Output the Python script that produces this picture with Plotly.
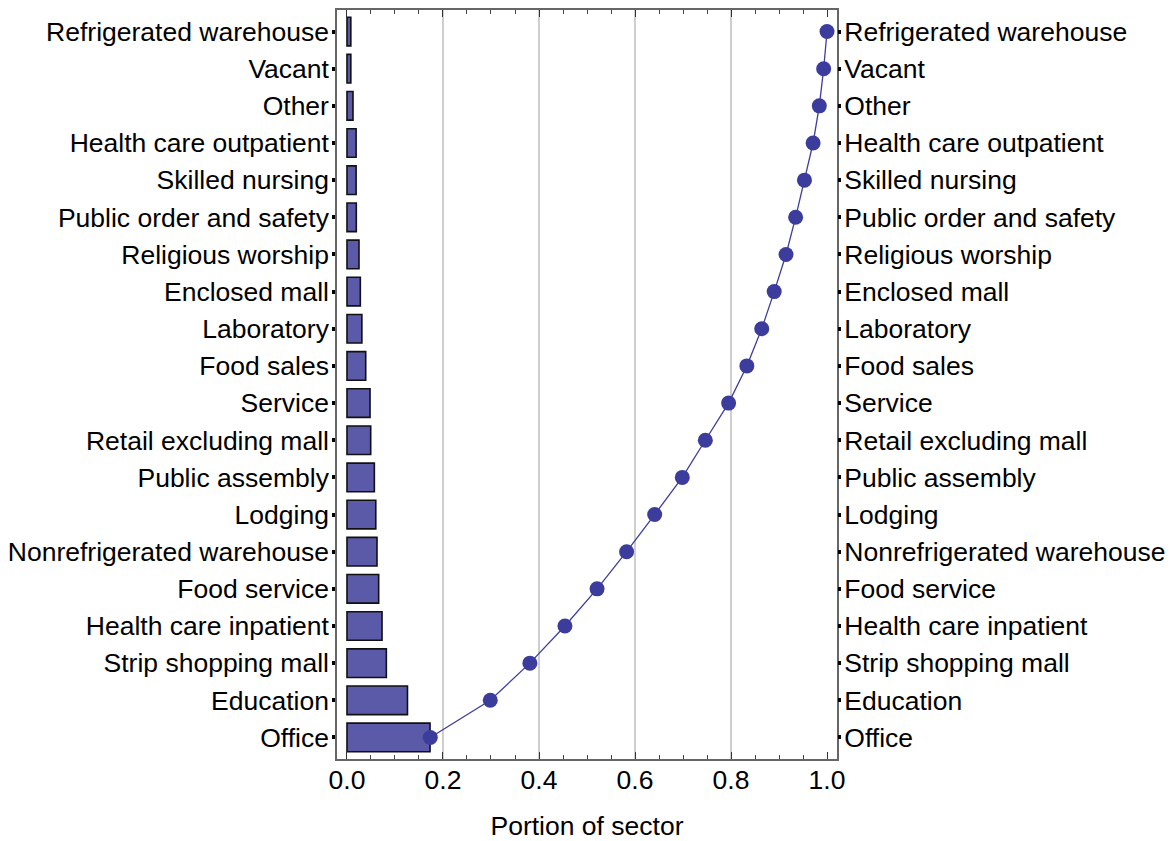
import plotly.graph_objects as go

categories = ["Office", "Education", "Strip shopping mall", "Health care inpatient",
              "Food service", "Nonrefrigerated warehouse", "Lodging", "Public assembly",
              "Retail excluding mall", "Service", "Food sales", "Laboratory",
              "Enclosed mall", "Religious worship", "Public order and safety",
              "Skilled nursing", "Health care outpatient", "Other", "Vacant",
              "Refrigerated warehouse"]
portion = [0.173, 0.126, 0.082, 0.073, 0.066, 0.0625, 0.060, 0.057, 0.0494, 0.048,
           0.039, 0.031, 0.0278, 0.025, 0.0194, 0.019, 0.019, 0.0125, 0.008, 0.008]
cumulative = [0.1735, 0.2985, 0.381, 0.454, 0.521, 0.5825, 0.641, 0.6985, 0.7465, 0.795,
              0.833, 0.864, 0.890, 0.9146, 0.9346, 0.953, 0.971, 0.984, 0.993, 1.0]
x_ticks = [0.0, 0.2, 0.4, 0.6, 0.8, 1.0]
grid_vals = [0.2, 0.4, 0.6, 0.8]

FONT = "Liberation Sans, Arial, Helvetica, sans-serif"
XR = [-0.0208, 1.0208]
YR = [-0.58, 19.58]

fig = go.Figure()
fig.add_trace(go.Bar(x=portion, y=categories, orientation="h", width=0.77,
                     marker=dict(color="#5b5aa8", line=dict(color="#111111", width=1.6)),
                     xaxis="x", yaxis="y", showlegend=False))
fig.add_trace(go.Scatter(x=cumulative, y=categories, mode="lines+markers",
                         line=dict(color="#3d3d9e", width=1.3),
                         marker=dict(color="#3c3c9c", size=15, line=dict(width=0)),
                         xaxis="x", yaxis="y2", showlegend=False, cliponaxis=False))

for gv in grid_vals:
    fig.add_shape(type="line", xref="x", yref="paper", x0=gv, x1=gv, y0=0, y1=1,
                  line=dict(color="#b4b4b4", width=1.3), layer="below")

axis_font = dict(family=FONT, size=26.5, color="black")
fig.update_layout(
    width=1173, height=841,
    margin=dict(l=336.7, r=336.3, t=10, b=81.7, autoexpand=False),
    paper_bgcolor="white", plot_bgcolor="white",
    font=dict(family=FONT, size=26.5, color="black"),
    xaxis=dict(range=XR, tickvals=x_ticks, ticktext=[f"{v:.1f}" for v in x_ticks],
               showgrid=False, zeroline=False, showline=True, linecolor="#666666",
               linewidth=1.5, mirror="ticks", ticks="inside", ticklen=7, tickwidth=1.3,
               tickcolor="#333333", tickfont=axis_font, automargin=False,
               ticklabelstandoff=-4,
               minor=dict(dtick=0.05, tick0=0, ticks="inside", ticklen=4, tickwidth=1,
                          tickcolor="#444444", showgrid=False),
               title=dict(text="Portion of sector", font=axis_font, standoff=26)),
    yaxis=dict(type="category", categoryorder="array", categoryarray=categories,
               range=YR, showgrid=False, zeroline=False, showline=True,
               linecolor="#666666", linewidth=1.5, mirror=True, automargin=False,
               ticks="outside", ticklen=3, tickwidth=4, tickcolor="black",
               tickfont=axis_font, ticklabelstandoff=-2),
    yaxis2=dict(type="category", categoryorder="array", categoryarray=categories,
                range=YR, overlaying="y", side="right", showgrid=False, zeroline=False,
                showline=False, ticks="outside", ticklen=3, tickwidth=4, tickcolor="black",
                tickfont=axis_font, ticklabelstandoff=-2, automargin=False),
)

fig.write_html("out.html", config={"displayModeBar": False},
               post_script="document.body.style.margin='0px';")
